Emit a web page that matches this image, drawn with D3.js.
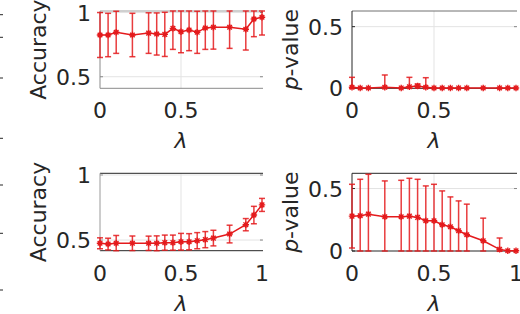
<!DOCTYPE html>
<html>
<head>
<meta charset="utf-8">
<script src="https://cdn.jsdelivr.net/npm/d3@7"></script>
<style>
  body { margin: 0; background: #fff; }
  svg { display: block; font-family: "DejaVu Sans", sans-serif; }
</style>
</head>
<body>
<div id="chart"></div>
<script>
// lambda values shared by all four panels
const lambda = [0, 0.05, 0.1, 0.2, 0.3, 0.35, 0.4, 0.45, 0.5, 0.55, 0.6, 0.65, 0.7, 0.8, 0.9, 0.95, 1];

// top row
const accTop    = [0.825, 0.825, 0.846, 0.825, 0.84, 0.833, 0.83, 0.877, 0.85, 0.864, 0.846, 0.88, 0.885, 0.885, 0.87, 0.95, 0.963];
const accTopErr = [0.175, 0.169, 0.164, 0.169, 0.158, 0.164, 0.172, 0.164, 0.163, 0.161, 0.164, 0.167, 0.17, 0.164, 0.162, 0.138, 0.138];
const pTop      = [0.008, 0.003, 0.003, 0.008, 0.003, 0.013, 0.019, 0.008, 0.003, 0.003, 0.003, 0.003, 0.003, 0.003, 0.003, 0.003, 0.003];
const pTopErr   = [0.081, 0, 0, 0.1, 0, 0.076, 0.016, 0.078, 0, 0, 0, 0, 0, 0, 0, 0, 0];

// bottom row
const accBot    = [0.475, 0.469, 0.475, 0.475, 0.475, 0.475, 0.48, 0.48, 0.487, 0.487, 0.495, 0.503, 0.515, 0.546, 0.618, 0.692, 0.77];
const accBotErr = [0.042, 0.045, 0.06, 0.056, 0.055, 0.057, 0.058, 0.058, 0.064, 0.062, 0.062, 0.062, 0.06, 0.068, 0.047, 0.067, 0.05];
const pBot      = [0.279, 0.282, 0.295, 0.274, 0.274, 0.279, 0.269, 0.242, 0.242, 0.21, 0.194, 0.162, 0.13, 0.082, 0.013, 0.002, 0.002];
const pBotErr   = [0.255, 0.292, 0.319, 0.287, 0.292, 0.303, 0.305, 0.279, 0.292, 0.271, 0.239, 0.239, 0.245, 0.181, 0.091, 0, 0];

const xTicksTop = [0, 0.5];
const xTicksBot = [0, 0.5, 1];
const accTicks = [0.5, 1];
const pTicks = [0, 0.5];

// stray tick marks from a neighbouring (cropped) axis at the left edge
const strayTicks = [14.7, 37.3, 78, 138.3, 185, 233.3, 290];

const W = 520, H = 314;
const red = "#e41a1c";

const svg = d3.select("#chart").append("svg")
    .attr("width", W)
    .attr("height", H);

svg.append("g").selectAll("line")
    .data(strayTicks)
    .enter().append("line")
    .attr("x1", 0).attr("x2", 3)
    .attr("y1", d => d).attr("y2", d => d)
    .style("stroke", "#262626")
    .style("stroke-width", 1);

const panels = [
    {left: 100, right: 262, top: 11, bottom: 88.3, ydom: [0.41, 1.012], y: accTop, err: accTopErr,
     xticks: xTicksTop, yticks: accTicks, ylabel: "acc", axisCol: "#8a8a8a", bottomCol: "#8a8a8a", topCol: "#a0a0a0"},
    {left: 352, right: 516, top: 11, bottom: 88.3, ydom: [0, 0.627], y: pTop, err: pTopErr,
     xticks: xTicksTop, yticks: pTicks, ylabel: "p", axisCol: "#262626", bottomCol: "#262626", topCol: "#707070"},
    {left: 100, right: 262, top: 173.3, bottom: 250.7, ydom: [0.418, 1.013], y: accBot, err: accBotErr,
     xticks: xTicksBot, yticks: accTicks, ylabel: "acc", axisCol: "#9a9a9a", bottomCol: "#262626", topCol: "#262626"},
    {left: 352, right: 516, top: 173.3, bottom: 251, ydom: [0, 0.622], y: pBot, err: pBotErr,
     xticks: xTicksBot, yticks: pTicks, ylabel: "p", axisCol: "#262626", bottomCol: "#262626", topCol: "#262626"}
];

panels.forEach(drawPanel);

function drawPanel(p) {
    let x = d3.scaleLinear().domain([0, 1]).range([p.left, p.right]);
    let y = d3.scaleLinear().domain(p.ydom).range([p.bottom, p.top]);
    let clampY = v => y(Math.max(p.ydom[0], Math.min(p.ydom[1], v)));

    let g = svg.append("g");

    // grid
    g.selectAll(".gx")
        .data(p.xticks.filter(t => t > 0 && t < 1))
        .enter().append("line")
        .attr("x1", d => x(d)).attr("x2", d => x(d))
        .attr("y1", p.top).attr("y2", p.bottom)
        .style("stroke", "#e3e3e3");
    g.selectAll(".gy")
        .data(p.yticks.filter(t => t > p.ydom[0] && t < p.ydom[1]))
        .enter().append("line")
        .attr("x1", p.left).attr("x2", p.right)
        .attr("y1", d => y(d)).attr("y2", d => y(d))
        .style("stroke", "#e3e3e3");

    // box
    g.append("line").attr("x1", p.left).attr("x2", p.right + 1)
        .attr("y1", p.top).attr("y2", p.top)
        .style("stroke", p.topCol);
    g.append("line").attr("x1", p.left).attr("x2", p.right + 1)
        .attr("y1", p.bottom).attr("y2", p.bottom)
        .style("stroke", p.bottomCol);
    g.append("line").attr("x1", p.left).attr("x2", p.left)
        .attr("y1", p.top).attr("y2", p.bottom)
        .style("stroke", p.axisCol);

    // tick marks (inward)
    g.selectAll(".ty")
        .data(p.yticks)
        .enter().append("line")
        .attr("x1", p.left).attr("x2", p.left + 3)
        .attr("y1", d => y(d)).attr("y2", d => y(d))
        .style("stroke", p.axisCol);
    g.selectAll(".tyr")
        .data(p.yticks)
        .enter().append("line")
        .attr("x1", p.right - 2).attr("x2", p.right + 1)
        .attr("y1", d => y(d)).attr("y2", d => y(d))
        .style("stroke", "#888");

    let pts = lambda.map((l, i) => ({x: l, y: p.y[i], e: p.err[i]}));

    // error bars
    let eb = g.append("g").selectAll("g")
        .data(pts.filter(d => d.e > 0))
        .enter().append("g")
        .style("stroke", red)
        .style("stroke-opacity", 0.85)
        .style("stroke-width", 1.5);
    eb.append("line")
        .attr("x1", d => x(d.x)).attr("x2", d => x(d.x))
        .attr("y1", d => clampY(d.y - d.e)).attr("y2", d => clampY(d.y + d.e));
    eb.append("line")
        .attr("x1", d => x(d.x) - 3).attr("x2", d => x(d.x) + 3)
        .attr("y1", d => clampY(d.y + d.e)).attr("y2", d => clampY(d.y + d.e));
    eb.append("line")
        .attr("x1", d => x(d.x) - 3).attr("x2", d => x(d.x) + 3)
        .attr("y1", d => clampY(d.y - d.e)).attr("y2", d => clampY(d.y - d.e));

    // line
    g.append("path")
        .datum(pts)
        .attr("d", d3.line().x(d => x(d.x)).y(d => y(d.y)))
        .style("fill", "none")
        .style("stroke", red)
        .style("stroke-width", 1.5);

    // asterisk markers
    let r = 3.2, q = r * 0.72;
    g.append("g").selectAll("path")
        .data(pts)
        .enter().append("path")
        .attr("transform", d => "translate(" + x(d.x) + "," + y(d.y) + ")")
        .attr("d", "M" + (-r) + ",0H" + r + "M0," + (-r) + "V" + r +
                   "M" + (-q) + "," + (-q) + "L" + q + "," + q +
                   "M" + (-q) + "," + q + "L" + q + "," + (-q))
        .style("fill", "none")
        .style("stroke", red)
        .style("stroke-width", 1.4);

    // tick labels
    g.selectAll(".xl")
        .data(p.xticks)
        .enter().append("text")
        .attr("x", d => x(d))
        .attr("y", p.bottom + 30)
        .attr("text-anchor", "middle")
        .style("font-size", "22px")
        .style("fill", "#262626")
        .text(d => d);
    g.selectAll(".yl")
        .data(p.yticks)
        .enter().append("text")
        .attr("x", p.left - 9)
        .attr("y", d => y(d) + 8)
        .attr("text-anchor", "end")
        .style("font-size", "22px")
        .style("fill", "#262626")
        .text(d => d);

    // axis labels
    let xl = g.append("text")
        .attr("x", x(0.5))
        .attr("y", p.bottom + 60)
        .attr("text-anchor", "middle")
        .style("font-size", "22px")
        .style("font-style", "italic")
        .style("fill", "#262626")
        .text("λ");

    let cy = (p.top + p.bottom) / 2;
    let yl = g.append("text")
        .attr("transform", "translate(" + (p.left - 54) + "," + cy + ") rotate(-90)")
        .attr("text-anchor", "middle")
        .style("font-size", "22px")
        .style("fill", "#262626");
    if (p.ylabel === "acc") {
        yl.text("Accuracy");
    } else {
        yl.append("tspan").style("font-style", "italic").text("p");
        yl.append("tspan").text("-value");
    }
}
</script>
</body>
</html>
